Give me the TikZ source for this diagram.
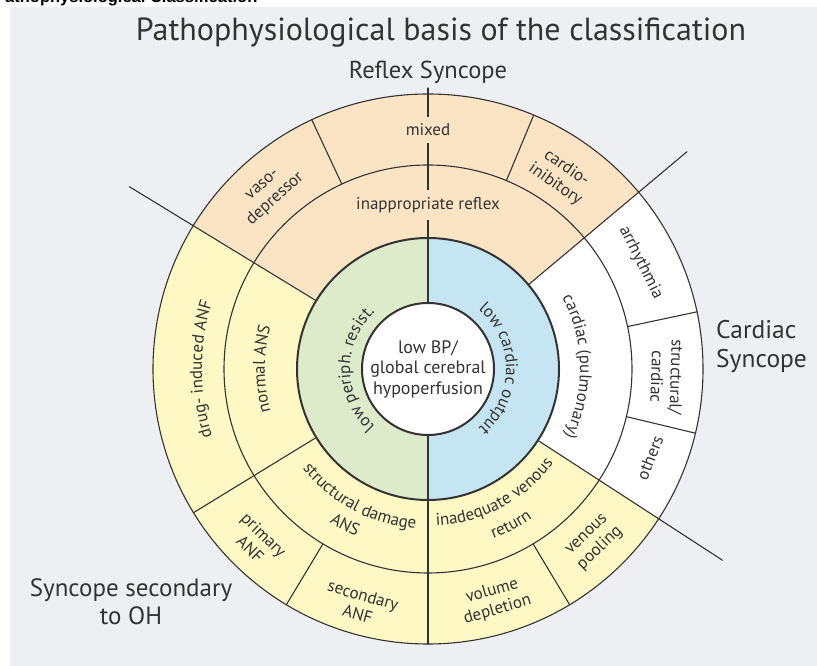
\documentclass[tikz,border=0pt]{standalone}
\usepackage{fontspec}
\setmainfont{PT Sans}
\newfontfamily\cutfont{Liberation Sans}
\usetikzlibrary{decorations.text}
\definecolor{bgpanel}{HTML}{EEEFF3}
\definecolor{peach}{HTML}{FBE4C3}
\definecolor{lyellow}{HTML}{FDF8C4}
\definecolor{lgreen}{HTML}{DDEBCA}
\definecolor{lblue}{HTML}{C6E5F3}
\definecolor{ink}{HTML}{333333}
\newcommand\Lfont{\fontsize{17}{19.5}\selectfont}
\newcommand\ansector[5]{\fill[#1] (#2:#4pt) arc[start angle=#2,end angle=#3,radius=#4pt] -- (#3:#5pt) arc[start angle=#3,end angle=#2,radius=#5pt] -- cycle;}
\begin{document}
\begin{tikzpicture}[x=1pt,y=1pt,line cap=round,
  thinline/.style={draw=ink,line width=1.1pt},
  thickline/.style={draw=ink,line width=2pt},
  lbl/.style={font=\Lfont,text=ink,align=center,inner sep=1pt},
  curved/.style={decorate,decoration={text along path,text align=center,text color=ink,text={|\Lfont|#1}}}]
\useasboundingbox (0,0) rectangle (817,666);
\clip (0,0) rectangle (817,666);
\fill[white] (0,0) rectangle (817,666);
\node[anchor=base west,inner sep=0,font=\cutfont\bfseries\fontsize{16.5}{18}\selectfont] (cut) at (-6,663) {Pathophysiological Classification};
\fill[bgpanel] (10,0) rectangle (817,659);
\node[anchor=base,font=\fontsize{32}{38}\selectfont,text=ink] (title) at (441,625) {Pathophysiological basis of the classification};
\node[font=\fontsize{24.5}{28}\selectfont,text=ink] (reflex) at (428,594) {Reflex Syncope};
\node[font=\fontsize{25.5}{29}\selectfont,text=ink,align=left,anchor=west,inner sep=0] (cardiac) at (716,319) {Cardiac\\Syncope};
\node[font=\fontsize{25}{28}\selectfont,text=ink,align=center,inner sep=0] (oh) at (131,64) {Syncope secondary\\to OH};
\begin{scope}[shift={(428,297)}]
\ansector{peach}{40}{148.6}{131}{275}
\ansector{white}{-33}{40}{131}{275}
\ansector{lyellow}{148.6}{327}{131}{275}
\ansector{lblue}{-90}{90}{66}{131}
\ansector{lgreen}{90}{270}{66}{131}
\fill[white] (0,0) circle[radius=66pt];
\draw[thinline] (0,0) circle[radius=275pt];
\draw[thinline] (0,0) circle[radius=204pt];
\draw[thinline] (148.6:131pt) -- (148.6:350pt);
\draw[thinline] (40:131pt) -- (40:338pt);
\draw[thinline] (-33:131pt) -- (-33:351pt);
\draw[thinline] (211.5:131pt) -- (211.5:275pt);
\foreach \a in {115,67.4,12,-13.5,239,301} \draw[thinline] (\a:204pt) -- (\a:275pt);
\draw[thinline] (90:66pt) -- (90:281pt);
\draw[thinline] (270:66pt) -- (270:275pt);
\draw[thickline] (0,0) circle[radius=131pt];
\draw[thickline] (0,0) circle[radius=66pt];
\node[lbl,fill=peach,inner xsep=3pt,inner ysep=7pt] (mixed) at (90:239pt) {mixed};
\node[lbl,fill=peach,inner xsep=3pt,inner ysep=7pt] (inrefl) at (90:164pt) {inappropriate reflex};
\node[lbl,rotate=41.9] (vaso) at (131.9:237pt) {vaso-\\depressor};
\node[lbl,rotate=-34.6] (cardio) at (55.4:234pt) {cardio-\\inibitory};
\node[lbl,rotate=-63.4] (arrh) at (26.6:238pt) {arrhythmia};
\node[lbl,rotate=-91.9] (struc) at (-1.9:239pt) {structural/\\cardiac};
\node[lbl,rotate=68.2] (others) at (-21.8:239pt) {others};
\node[lbl,rotate=43.8] (venpool) at (-46.2:240pt) {venous\\pooling};
\node[lbl,rotate=16.1] (voldep) at (-73.9:241pt) {volume\\depletion};
\node[lbl,rotate=-16] (secanf) at (254:245pt) {secondary\\ANF};
\node[lbl,rotate=-44.7] (primanf) at (225.3:243pt) {primary\\ANF};
\node[lbl,font=\fontsize{18}{20.5}\selectfont] (core) at (0,0) {low BP/\\global cerebral\\hypoperfusion};
\path[curved={low periph. resist.}] (250:78pt) arc[start angle=250,end angle=110,radius=78pt];
\path[curved={low cardiac output}] (70:78pt) arc[start angle=70,end angle=-70,radius=78pt];
\path[curved={normal ANS}] (250:163pt) arc[start angle=250,end angle=110,radius=163pt];
\path[curved={drug- induced ANF}] (250:226pt) arc[start angle=250,end angle=110,radius=226pt];
\path[curved={cardiac (pulmonary)}] (71:152pt) arc[start angle=71,end angle=-69,radius=152pt];
\path[curved={structural damage}] (182:160pt) arc[start angle=182,end angle=302,radius=160pt];
\path[curved={ANS}] (182:182pt) arc[start angle=182,end angle=302,radius=182pt];
\path[curved={inadequate venous}] (238:157pt) arc[start angle=238,end angle=358,radius=157pt];
\path[curved={return}] (238:182pt) arc[start angle=238,end angle=358,radius=182pt];
\end{scope}
\end{tikzpicture}
\end{document}
